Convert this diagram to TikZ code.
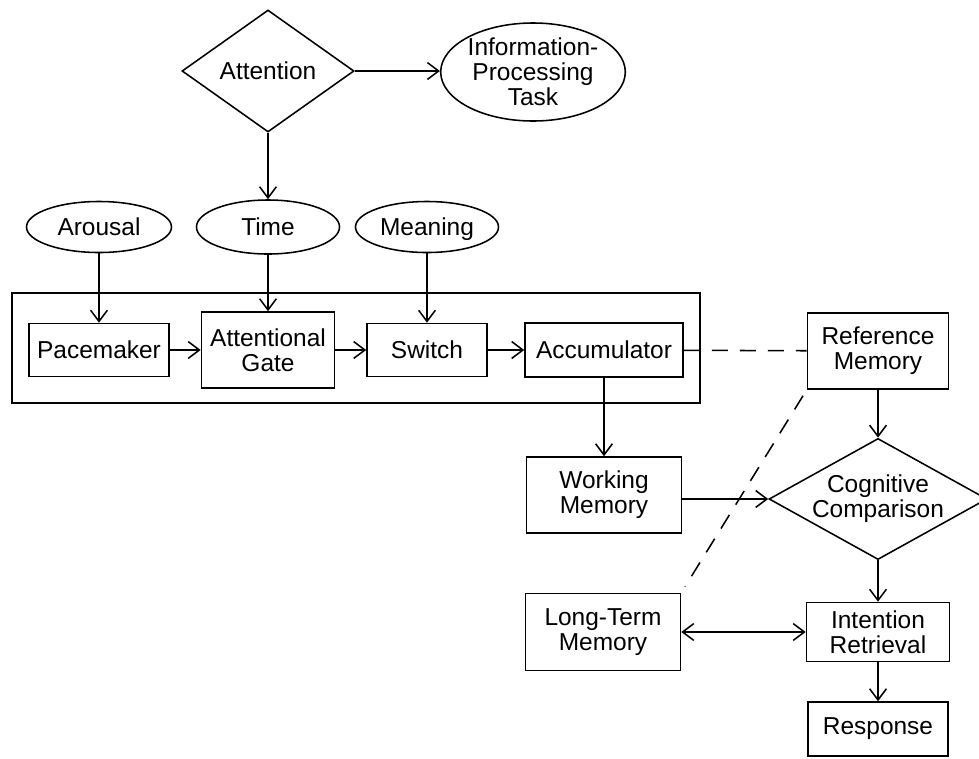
\documentclass[tikz,border=0pt]{standalone}
\usepackage{fontspec}
\setmainfont{Liberation Sans}
\usetikzlibrary{arrows.meta,shapes}
\tikzset{
    block/.style={
    rectangle,draw=black,align=center,inner sep=2pt
    },
    oval/.style={
    ellipse,draw=black,align=center,inner sep=1pt
    },
    oneline/.style={
    text height=12.5pt,text depth=0pt
    },
    decision/.style={
    diamond,draw=black,align=center,inner sep=0pt
    },
    link/.style={
    dash pattern=on 0.4cm off 0.3cm
    },
}
\begin{document}
\begin{tikzpicture}[x=0.025cm, y=-0.025cm, line width=1.1pt,
    >={Straight Barb[length=2.8mm,width=4.2mm]},
    font=\fontsize{17.4}{17.8}\selectfont]
   \useasboundingbox (0,0) rectangle (979,758);
   \node[decision, minimum width=4.3cm, minimum height=3.05cm] (attn) at (268,71) {Attention};
   \node[oval, inner sep=0pt, minimum width=4.55cm, minimum height=2.45cm] (info) at (533,72) {Information-\\Processing\\Task};
   \node[oval, oneline, minimum width=3.625cm, minimum height=1.275cm] (arousal) at (99,227) {Arousal};
   \node[oval, oneline, minimum width=3.575cm, minimum height=1.35cm] (time) at (268,227) {Time};
   \node[oval, oneline, minimum width=3.575cm, minimum height=1.275cm] (meaning) at (427,227) {Meaning};
   % clock stage
   \node[block, minimum width=17.2cm, minimum height=2.75cm] (clock) at (356,348) {};
   \node[block, minimum width=3.5cm, minimum height=1.325cm] (pace) at (99,350) {Pacemaker};
   \node[block, minimum width=3.325cm, minimum height=1.9cm] (gate) at (268,350) {Attentional\\Gate};
   \node[block, minimum width=3.0cm, minimum height=1.325cm] (switch) at (427,350) {Switch};
   \node[block, minimum width=3.95cm, minimum height=1.35cm] (acc) at (604,350) {Accumulator};
   % memory and decision stage
   \node[block, minimum width=3.525cm, minimum height=1.9cm] (refmem) at (878,351) {Reference\\Memory};
   \node[block, minimum width=3.875cm, minimum height=1.9cm] (workmem) at (604,495) {Working\\Memory};
   \node[decision, aspect=1.8, minimum width=5.0cm, minimum height=2.9cm] (compare) at (878,499) {Cognitive\\Comparison};
   \node[block, minimum width=3.875cm, minimum height=1.925cm] (ltm) at (603,632) {Long-Term\\Memory};
   \node[block, minimum width=3.575cm, minimum height=1.475cm] (retrieval) at (878,632) {Intention\\Retrieval};
   \node[block, minimum width=3.5cm, minimum height=1.35cm] (response) at (878,729) {Response};

  \path[->]
    (attn) edge (time)
    (arousal) edge (pace)
    (time) edge (gate)
    (meaning) edge (switch)
    (pace) edge (gate)
    (gate) edge (switch)
    (switch) edge (acc)
    (acc) edge (workmem)
    (refmem) edge (compare)
    (compare) edge (retrieval)
    (retrieval) edge (response);
  \draw[->] (attn.east) -- (attn.east -| info.west);
  \draw[->] (workmem.east |- compare.west) -- (compare.west);
  \draw[<->] (ltm) -- (retrieval);
  \draw[link] (acc) -- (refmem);
  \draw[link, shorten >=5pt, shorten <=5pt] (refmem.south west) -- (ltm.north east);
  \end{tikzpicture}
\end{document}
